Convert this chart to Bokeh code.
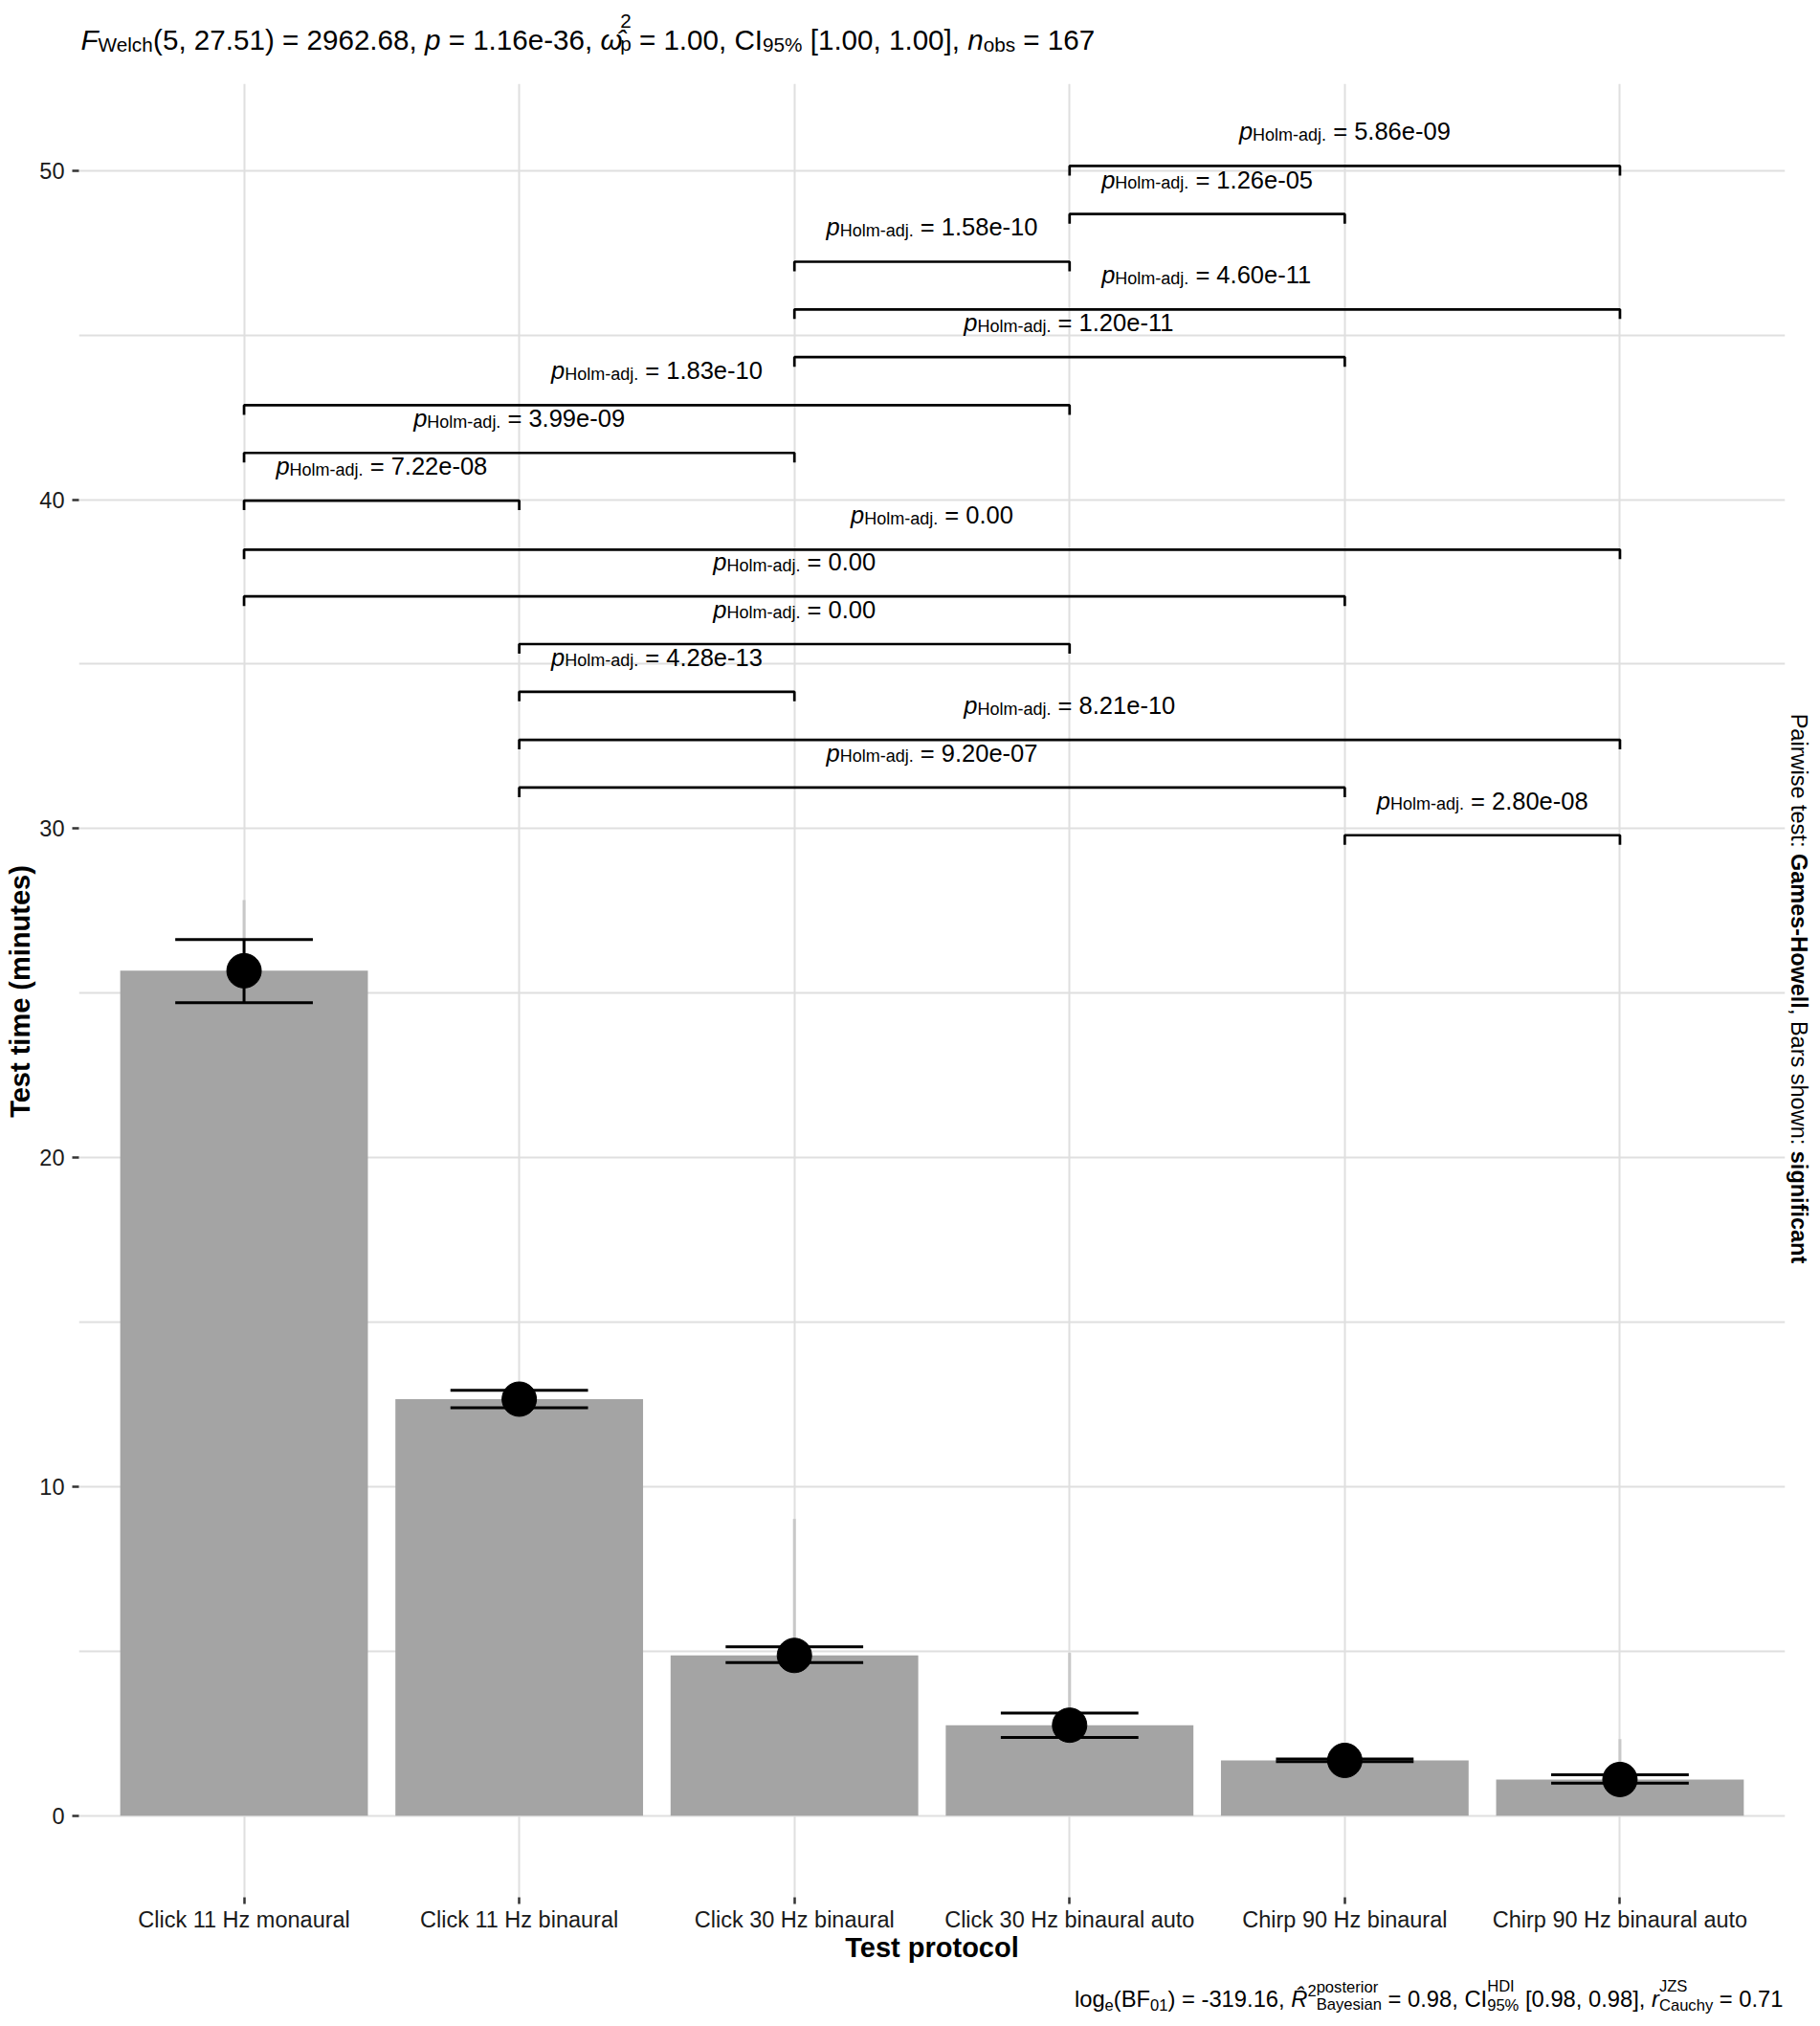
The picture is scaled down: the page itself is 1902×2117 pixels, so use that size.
import math
from bokeh.plotting import figure
from bokeh.models import ColumnDataSource, FixedTicker, Range1d
from bokeh.core.properties import value
from bokeh.embed import file_html
from bokeh.resources import INLINE

# ---------------- data ----------------
categories = ["Click 11 Hz monaural", "Click 11 Hz binaural", "Click 30 Hz binaural",
              "Click 30 Hz binaural auto", "Chirp 90 Hz binaural", "Chirp 90 Hz binaural auto"]
mean_time = [25.68, 12.66, 4.87, 2.75, 1.68, 1.10]
ci_low = [24.71, 12.40, 4.65, 2.38, 1.64, 0.99]
ci_high = [26.63, 12.93, 5.13, 3.12, 1.72, 1.24]
max_time = [27.83, 12.93, 9.02, 4.95, 1.72, 2.33]

pair_from = [5, 2, 2, 2, 2, 1, 1, 1, 1, 1, 3, 3, 3, 4, 4]
pair_to = [6, 5, 6, 3, 4, 5, 6, 2, 3, 4, 5, 6, 4, 5, 6]
pair_p = ["2.80e-08", "9.20e-07", "8.21e-10", "4.28e-13", "0.00", "0.00", "0.00", "7.22e-08",
          "3.99e-09", "1.83e-10", "1.20e-11", "4.60e-11", "1.58e-10", "1.26e-05", "5.86e-09"]
pair_y = [29.80, 31.25, 32.70, 34.16, 35.61, 37.06, 38.48, 39.97, 41.42, 42.87, 44.33, 45.78,
          47.23, 48.68, 50.14]

y_ticks = [0, 10, 20, 30, 40, 50]
y_minor = [5, 15, 25, 35, 45]

# ---------------- layout constants ----------------
FONT = "Liberation Sans"
W, H = 1894, 2109
BL, BT = 82, 87
BR, BB = W - 1865, H - 1982
X0, X1 = 0.4, 6.6
Y0, Y1 = -2.48, 52.64
YMID = (Y0 + Y1) / 2
FRAME_H = H - BT - BB
TIP = 10 * (Y1 - Y0) / FRAME_H
NB = "\u00a0"

REG = {' ': 278, NB: 278, '!': 278, '%': 889, '(': 333, ')': 333, ',': 278, '-': 333, '.': 278,
       ':': 278, '=': 584, '[': 278, ']': 278, 'A': 667, 'B': 667, 'C': 722, 'D': 722, 'E': 667,
       'F': 611, 'G': 778, 'H': 722, 'I': 278, 'J': 500, 'K': 667, 'L': 556, 'M': 833, 'N': 722,
       'O': 778, 'P': 667, 'Q': 778, 'R': 722, 'S': 667, 'T': 611, 'U': 722, 'V': 667, 'W': 944,
       'X': 667, 'Y': 667, 'Z': 611, 'a': 556, 'b': 556, 'c': 500, 'd': 556, 'e': 556, 'f': 278,
       'g': 556, 'h': 556, 'i': 222, 'j': 222, 'k': 500, 'l': 222, 'm': 833, 'n': 556, 'o': 556,
       'p': 556, 'q': 556, 'r': 333, 's': 500, 't': 278, 'u': 556, 'v': 500, 'w': 722, 'x': 500,
       'y': 500, 'z': 500, '\u03c9': 700, '\u0302': 0}
for d in "0123456789":
    REG[d] = 556
BOLD = {' ': 278, NB: 278, ',': 278, '-': 333, '.': 278, ':': 333, '(': 333, ')': 333, 'A': 722,
        'B': 722, 'C': 722, 'G': 778, 'H': 722, 'P': 667, 'T': 611, 'W': 944, 'a': 556, 'b': 611,
        'c': 556, 'd': 611, 'e': 556, 'f': 333, 'g': 611, 'h': 611, 'i': 278, 'j': 278, 'k': 556,
        'l': 278, 'm': 889, 'n': 611, 'o': 611, 'p': 611, 'r': 389, 's': 556, 't': 333, 'u': 611,
        'w': 778, 'y': 556}


def keep_spaces(s):
    # SVG drops leading / trailing blanks, so protect them
    n_lead = len(s) - len(s.lstrip(" "))
    n_trail = len(s) - len(s.rstrip(" "))
    core = s.strip(" ")
    return NB * n_lead + core + NB * n_trail


def tw(s, size, style):
    t = BOLD if style == "bold" else REG
    return sum(t.get(c, 556) for c in s) * size / 1000.0


def layout(items):
    out, adv = [], 0.0
    for it in items:
        if it[0] == "t":
            _, s, sz, st, dy = it
            out.append((keep_spaces(s), sz, st, adv, dy))
            adv += tw(s, sz, st)
        else:
            _, a, b = it
            out.append((a[0], a[1], a[2], adv, a[3]))
            out.append((b[0], b[1], b[2], adv, b[3]))
            adv += max(tw(a[0], a[1], a[2]), tw(b[0], b[1], b[2]))
    return out, adv


groups = {}


def add_text(x, y, xo, yo, text, size, style, angle=0.0, align="left", color="#000000"):
    key = (size, style, angle, align, color)
    g = groups.setdefault(key, dict(x=[], y=[], xo=[], yo=[], text=[]))
    g["x"].append(x); g["y"].append(y); g["xo"].append(xo); g["yo"].append(yo); g["text"].append(text)


# ---------------- figure ----------------
p = figure(width=W, height=H, x_range=Range1d(X0, X1), y_range=Range1d(Y0, Y1),
           output_backend="svg", toolbar_location=None,
           min_border_left=BL, min_border_right=BR, min_border_top=BT, min_border_bottom=BB)
p.outline_line_color = None
p.background_fill_color = "white"
p.border_fill_color = "white"

xs = list(range(1, len(categories) + 1))
xt = FixedTicker(ticks=xs)
yt = FixedTicker(ticks=y_ticks, minor_ticks=y_minor)
p.xaxis.ticker = xt
p.xgrid.ticker = xt
p.yaxis.ticker = yt
p.ygrid.ticker = yt
p.xaxis.major_label_overrides = {x: c for x, c in zip(xs, categories)}

for ax in (p.xaxis, p.yaxis):
    ax.axis_line_color = None
    ax.major_tick_line_color = "#333333"
    ax.major_tick_line_width = 2.5
    ax.major_tick_out = 7
    ax.major_tick_in = 0
    ax.minor_tick_line_color = None
    ax.major_label_text_font = FONT
    ax.major_label_text_font_size = "23.5px"
    ax.major_label_text_color = "#1a1a1a"
p.xaxis.major_label_standoff = 3
p.yaxis.major_label_standoff = 8

p.xgrid.grid_line_color = "#DFDFDF"
p.xgrid.grid_line_width = 2
p.ygrid.grid_line_color = "#DFDFDF"
p.ygrid.grid_line_width = 2
p.ygrid.minor_grid_line_color = "#DFDFDF"
p.ygrid.minor_grid_line_width = 1.8

# bars
src = ColumnDataSource(dict(x=xs, mean=mean_time, lo=ci_low, hi=ci_high, mx=max_time,
                            xl=[x - 0.25 for x in xs], xr=[x + 0.25 for x in xs]))
p.vbar(x="x", top="mean", width=0.9, bottom=0, source=src, fill_color="#A4A4A4", line_color=None)
# faint range lines
p.segment(x0="x", x1="x", y0="hi", y1="mx", source=src, line_color="#C8C8C8", line_width=3)
# error bars
p.segment(x0="x", x1="x", y0="lo", y1="hi", source=src, line_color="black", line_width=3)
p.segment(x0="xl", x1="xr", y0="lo", y1="lo", source=src, line_color="black", line_width=3)
p.segment(x0="xl", x1="xr", y0="hi", y1="hi", source=src, line_color="black", line_width=3)
p.scatter(x="x", y="mean", source=src, size=36, fill_color="black", line_color="black")

# significance brackets
bxs, bys = [], []
for a, b, lv in zip(pair_from, pair_to, pair_y):
    bxs.append([a, a, b, b])
    bys.append([lv - TIP, lv, lv, lv - TIP])
p.multi_line(xs=bxs, ys=bys, line_color="black", line_width=2.7)

LB, LS = 25.5, 18.0
for a, b, lv, pv in zip(pair_from, pair_to, pair_y, pair_p):
    pieces, tot = layout([("t", "p", LB, "italic", 0), ("t", "Holm-adj.", LS, "normal", 3.5),
                          ("t", " = " + pv, LB, "normal", 0)])
    for s, sz, st, adv, dy in pieces:
        add_text((a + b) / 2, lv, -tot / 2 + adv, -36 + dy, s, sz, st)

# title (subtitle line)
T, TS = 29.6, 20.7
title_items = [("t", "F", T, "italic", 0), ("t", "Welch", TS, "normal", 5),
               ("t", "(5, 27.51)", T, "normal", 0), ("t", " = 2962.68, ", T, "normal", 0),
               ("t", "p", T, "italic", 0), ("t", " = 1.16e-36, ", T, "normal", 0),
               ("t", "\u03c9\u0302", T, "italic", 0),
               ("s", ("2", TS, "normal", -20), ("p", TS, "normal", 4)),
               ("t", " = 1.00, CI", T, "normal", 0), ("t", "95%", TS, "normal", 5),
               ("t", " [1.00, 1.00], ", T, "normal", 0), ("t", "n", T, "italic", 0),
               ("t", "obs", TS, "normal", 5), ("t", " = 167", T, "normal", 0)]
pieces, tot = layout(title_items)
for s, sz, st, adv, dy in pieces:
    add_text(X0, Y1, 2 + adv, -46 + dy, s, sz, st)

# caption
C, CS = 23.75, 16.6
cap_items = [("t", "log", C, "normal", 0), ("t", "e", CS, "normal", 6), ("t", "(BF", C, "normal", 0),
             ("t", "01", CS, "normal", 6), ("t", ") = -319.16, ", C, "normal", 0),
             ("t", "R\u0302", C, "italic", 0), ("t", "2", CS, "normal", -9),
             ("s", ("posterior", CS, "normal", -12), ("Bayesian", CS, "normal", 6)),
             ("t", " = 0.98, CI", C, "normal", 0),
             ("s", ("HDI", CS, "normal", -13), ("95%", CS, "normal", 7)),
             ("t", " [0.98, 0.98], ", C, "normal", 0), ("t", "r", C, "italic", 0),
             ("s", ("JZS", CS, "normal", -13), ("Cauchy", CS, "normal", 7)),
             ("t", " = 0.71", C, "normal", 0)]
pieces, tot = layout(cap_items)
for s, sz, st, adv, dy in pieces:
    add_text(X1, Y0, -2 - tot + adv, 106 + dy, s, sz, st)

# right-hand pairwise note (rotated, reading downwards)
R = 23.5
r_items = [("t", "Pairwise test: ", R, "normal", 0), ("t", "Games-Howell", R, "bold", 0),
           ("t", ", Bars shown: ", R, "normal", 0), ("t", "significant", R, "bold", 0)]
pieces, tot = layout(r_items)
for s, sz, st, adv, dy in pieces:
    add_text(X1, YMID, 14, -2 - tot / 2 + adv, s, sz, st, angle=-math.pi / 2)

# axis titles
add_text(X0, YMID, -62, 1, "Test time (minutes)", 29, "bold", angle=math.pi / 2, align="center")
add_text((X0 + X1) / 2, Y0, 0, 52, "Test protocol", 29, "bold", align="center")

for (size, style, angle, align, color), g in groups.items():
    s = ColumnDataSource(g)
    p.text(x="x", y="y", text="text", x_offset="xo", y_offset="yo", source=s,
           text_font=value(FONT), text_font_size=f"{size}px", text_font_style=style,
           text_align=align, text_baseline="alphabetic", angle=angle, text_color=color,
           level="overlay")

open("out.html", "w").write(file_html(p, INLINE))
